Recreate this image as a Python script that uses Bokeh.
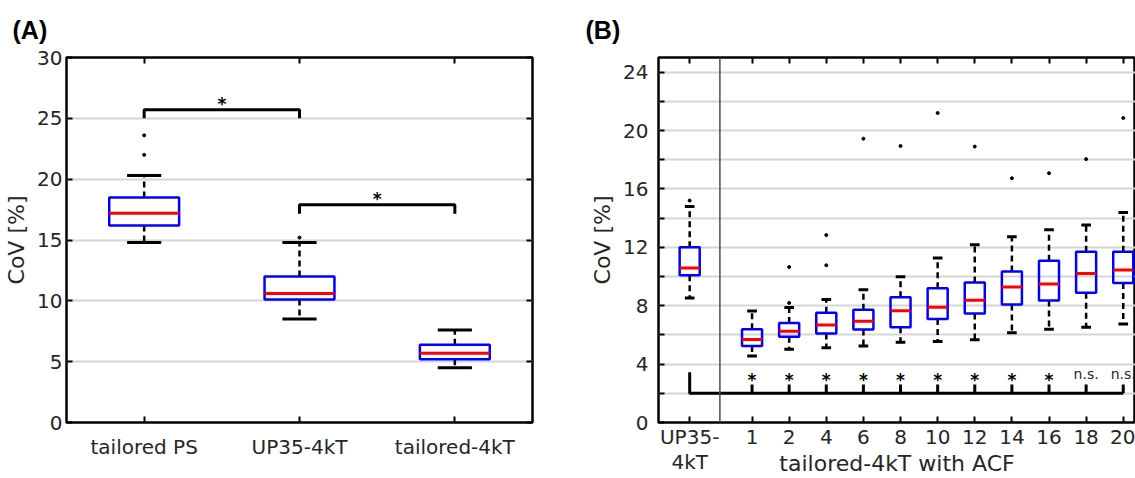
import numpy as np
from bokeh.plotting import figure
from bokeh.layouts import row
from bokeh.models import FixedTicker, LinearAxis, Range1d, Span
from bokeh.embed import file_html
from bokeh.resources import INLINE
from bokeh.core.properties import value

# ---------------- data: panel A ----------------
a_groups = ["tailored PS", "UP35-4kT", "tailored-4kT"]
a_q1 = [16.2, 10.1, 5.2]
a_med = [17.2, 10.6, 5.7]
a_q3 = [18.5, 12.0, 6.4]
a_lo = [14.8, 8.5, 4.5]
a_hi = [20.3, 14.8, 7.6]
a_out = [[22.0, 23.6], [15.2], []]
a_pairs = [(0, 1), (1, 2)]
a_pair_top = [25.7, 17.9]
a_pair_end = [25.0, 17.15]
a_pair_sig = ["*", "*"]

# ---------------- data: panel B ----------------
b_groups = ["UP35-\n4kT", "1", "2", "4", "6", "8", "10", "12", "14", "16", "18", "20"]
b_q1 = [10.09, 5.24, 5.87, 6.09, 6.37, 6.52, 7.09, 7.47, 8.08, 8.35, 8.89, 9.55]
b_med = [10.59, 5.69, 6.25, 6.68, 6.93, 7.65, 7.90, 8.37, 9.28, 9.48, 10.20, 10.45]
b_q3 = [12.0, 6.39, 6.82, 7.52, 7.72, 8.58, 9.19, 9.59, 10.34, 11.08, 11.69, 11.69]
b_lo = [8.53, 4.56, 5.01, 5.12, 5.24, 5.49, 5.55, 5.67, 6.14, 6.39, 6.52, 6.75]
b_hi = [14.8, 7.63, 7.88, 8.42, 9.10, 9.98, 11.26, 12.17, 12.73, 13.20, 13.52, 14.38]
b_out = [[15.2], [], [8.19, 10.65], [10.77, 12.84], [19.44], [18.94], [21.2],
         [18.9], [16.73], [17.07], [18.04], [20.86]]
b_sig = ["*"] * 9 + ["n.s."] * 2
b_base = 2.0
b_ref_arm = 3.45
b_arm = 2.6
b_sig_level = 3.27

TXT = "#262626"
FONT = "DejaVu Sans"


def style(p, yticks):
    p.outline_line_color = "black"
    p.outline_line_width = 2.5
    p.outline_line_alpha = 1
    p.xgrid.visible = False
    p.ygrid.ticker = FixedTicker(ticks=yticks)
    p.ygrid.grid_line_color = "#d6d6d6"
    p.ygrid.grid_line_width = 2
    for ax in p.axis:
        ax.major_tick_in = 6
        ax.major_tick_out = 0
        ax.major_tick_line_width = 2
        ax.major_tick_line_color = "black"
        ax.minor_tick_line_color = None
        ax.axis_line_color = None
        ax.major_label_text_font = FONT
        ax.major_label_text_font_size = "20px"
        ax.major_label_text_color = TXT
        ax.axis_label_text_font = FONT
        ax.axis_label_text_font_size = "22px"
        ax.axis_label_text_font_style = "normal"
        ax.axis_label_text_color = TXT


def add_tick_axis(p, side, ticks):
    ax = LinearAxis(ticker=FixedTicker(ticks=ticks))
    ax.major_label_text_font_size = "1px"
    ax.major_label_text_color = None
    ax.major_label_standoff = 0
    ax.major_tick_in = 6
    ax.major_tick_out = 0
    ax.major_tick_line_width = 2
    ax.major_tick_line_color = "black"
    ax.minor_tick_line_color = None
    ax.axis_line_color = None
    p.add_layout(ax, side)


def draw_boxes(p, xs, q1, med, q3, lo, hi, out, bw, cw):
    xs = np.asarray(xs, dtype=float)
    p.segment(x0=xs, y0=q3, x1=xs, y1=hi, line_color="black", line_width=2.5, line_dash="6 4")
    p.segment(x0=xs, y0=q1, x1=xs, y1=lo, line_color="black", line_width=2.5, line_dash="6 4")
    p.segment(x0=xs - cw / 2, y0=hi, x1=xs + cw / 2, y1=hi, line_color="black", line_width=3)
    p.segment(x0=xs - cw / 2, y0=lo, x1=xs + cw / 2, y1=lo, line_color="black", line_width=3)
    p.quad(left=xs - bw / 2, right=xs + bw / 2, bottom=q1, top=q3,
           fill_color=None, line_color="#0000ff", line_width=2.5)
    p.segment(x0=xs - bw / 2, y0=med, x1=xs + bw / 2, y1=med, line_color="#ff0000", line_width=3)
    ox = [x for x, o in zip(xs, out) for _ in o]
    oy = [v for o in out for v in o]
    p.scatter(ox, oy, size=3, color="black")


# ---------------- panel A ----------------
ax_pos = np.arange(1, len(a_groups) + 1, dtype=float)
pa = figure(width=575, height=478, x_range=Range1d(0.5, 3.5), y_range=Range1d(0, 30),
            output_backend="svg", toolbar_location=None,
            min_border_left=66, min_border_right=43, min_border_top=55, min_border_bottom=55)
pa.title.text = "(A)"
pa.title.text_font = "Liberation Sans"
pa.title.text_font_style = "bold"
pa.title.text_font_size = "25px"
pa.title.text_color = "black"
pa.title.offset = -54
pa.title.standoff = 27
pa.xaxis.ticker = FixedTicker(ticks=list(ax_pos))
pa.xaxis.major_label_overrides = {float(x): g for x, g in zip(ax_pos, a_groups)}
pa.yaxis.ticker = FixedTicker(ticks=[0, 5, 10, 15, 20, 25, 30])
pa.yaxis.axis_label = "CoV [%]"
style(pa, [0, 5, 10, 15, 20, 25, 30])
pa.xaxis.major_label_standoff = 12
pa.yaxis.major_label_standoff = 4
add_tick_axis(pa, "above", list(ax_pos))
add_tick_axis(pa, "right", [0, 5, 10, 15, 20, 25, 30])

draw_boxes(pa, ax_pos, a_q1, a_med, a_q3, a_lo, a_hi, a_out, 0.45, 0.22)

for (i, j), top, end, s in zip(a_pairs, a_pair_top, a_pair_end, a_pair_sig):
    xi, xj = ax_pos[i], ax_pos[j]
    pa.line([xi, xi, xj, xj], [end, top, top, end], line_color="black", line_width=3)
    pa.text([(xi + xj) / 2], [top], text=[s], text_align="center", text_baseline="alphabetic",
            text_font=value(FONT), text_font_size="17px", text_font_style="bold",
            text_color="black", y_offset=-6)

# ---------------- panel B ----------------
b_pos = np.array([-0.68] + list(range(1, len(b_groups))), dtype=float)
pb = figure(width=560, height=478, x_range=Range1d(-1.52, 11.33), y_range=Range1d(0, 25),
            output_backend="svg", toolbar_location=None,
            min_border_left=83, min_border_right=0, min_border_top=55, min_border_bottom=55)
pb.title.text = "(B)"
pb.title.text_font = "Liberation Sans"
pb.title.text_font_style = "bold"
pb.title.text_font_size = "25px"
pb.title.text_color = "black"
pb.title.offset = -73
pb.title.standoff = 27
pb.xaxis.ticker = FixedTicker(ticks=list(b_pos))
pb.xaxis.major_label_overrides = {float(x): g for x, g in zip(b_pos, b_groups)}
pb.xaxis.axis_label = "tailored-4kT with ACF"
yt_b = list(range(0, 25, 2))
pb.yaxis.ticker = FixedTicker(ticks=yt_b)
pb.yaxis.major_label_overrides = {t: ("" if t % 4 else str(t)) for t in yt_b}
pb.yaxis.axis_label = "CoV [%]"
style(pb, yt_b)
pb.xaxis.major_label_standoff = 2
pb.xaxis.major_label_text_line_height = 1.05
pb.xaxis.axis_label_standoff = -26
pb.yaxis.major_label_standoff = 10
add_tick_axis(pb, "above", list(b_pos))

pb.add_layout(Span(location=0.134, dimension="height", line_color="#4d4d4d", line_width=1.5))

draw_boxes(pb, b_pos, b_q1, b_med, b_q3, b_lo, b_hi, b_out, 0.54, 0.26)

# significance bracket
pb.line([b_pos[0], b_pos[0], b_pos[-1]], [b_ref_arm, b_base, b_base], line_color="black", line_width=3)
tx = b_pos[1:]
pb.segment(x0=tx, y0=[b_base] * len(tx), x1=tx, y1=[b_arm] * len(tx), line_color="black", line_width=3)
star_x = [x for x, s in zip(tx, b_sig) if s == "*"]
ns_x = [x for x, s in zip(tx, b_sig) if s != "*"]
pb.text(star_x, [b_sig_level] * len(star_x), text=["*"] * len(star_x), text_align="center",
        text_baseline="alphabetic", text_font=value(FONT), text_font_size="17px",
        text_font_style="bold", text_color="black", y_offset=5)
pb.text(ns_x, [b_sig_level] * len(ns_x), text=[s for s in b_sig if s != "*"], text_align="center",
        text_baseline="middle", text_font=value(FONT), text_font_size="14px",
        text_color=TXT, y_offset=-1)

layout = row(pa, pb)
open("out.html", "w").write(file_html(layout, INLINE))
